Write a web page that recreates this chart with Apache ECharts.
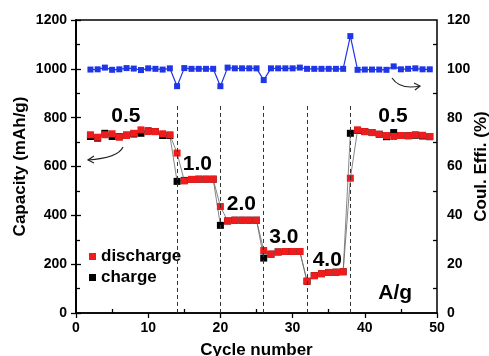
<!DOCTYPE html>
<html><head><meta charset="utf-8">
<script src="https://cdn.jsdelivr.net/npm/echarts@6/dist/echarts.min.js"></script>
<style>html,body{margin:0;padding:0;background:#fff}#c{width:489px;height:356px}</style>
</head><body><div id="c"></div>
<script>
var cycles = [2,3,4,5,6,7,8,9,10,11,12,13,14,15,16,17,18,19,20,21,22,23,24,25,26,27,28,29,30,31,32,33,34,35,36,37,38,39,40,41,42,43,44,45,46,47,48,49];
var discharge = [730,720,730,734,720,727,736,750,743,743,734,730,655,541,547,548,548,548,436,377,380,380,380,380,256,241,250,252,252,252,130,153,161,166,167,169,552,750,743,739,732,727,723,727,726,730,728,723];
var charge = [723,716,736,723,722,729,733,736,746,743,727,727,539,543,547,548,548,548,359,377,380,380,380,380,225,241,250,252,252,252,130,153,161,166,167,169,736,748,743,739,732,722,739,727,726,728,725,722];
var coulEff = [99.7,99.8,100.5,99.6,99.8,100.3,100.1,99.5,100.2,100.0,99.7,100.2,92.9,100.3,100.0,100.0,100.0,100.0,92.9,100.5,100.2,100.2,100.2,100.2,95.4,100.2,100.2,100.2,100.2,100.5,100.0,100.0,100.0,100.0,100.0,100.0,113.4,99.6,99.7,99.7,99.7,99.6,101.0,99.8,100.0,100.2,99.8,99.8];
var rateSwitchCycles = [14,20,26,32,38];
var annotations = [[6.9,807,'0.5'],[16.8,610,'1.0'],[22.9,446,'2.0'],[28.8,311,'3.0'],[34.8,217,'4.0'],[43.9,807,'0.5'],[44.2,82,'A/g']];

function pairs(ys){return cycles.map(function(c,i){return [c,ys[i]];});}
var chart = echarts.init(document.getElementById('c'), null, {renderer:'canvas'});
var fontFam = 'Liberation Sans, Arial, sans-serif';
function plain(v){return String(v);}
var lblStyle = {color:'#000', fontWeight:'bold', fontSize:14, fontFamily:fontFam, formatter:plain};
var nameStyle = {color:'#000', fontWeight:'bold', fontSize:17, fontFamily:fontFam};
var lineAx = {show:true, lineStyle:{color:'#000', width:1.5}};
var tickOut = {show:true, length:5, lineStyle:{color:'#000', width:1.3}};
var hideAx = {axisLine:{show:false}, axisLabel:{show:false}, splitLine:{show:false},
  axisTick:{show:false, inside:true}, minorTick:{show:true, splitNumber:2, length:4, lineStyle:{color:'#000', width:1.3}}};

var option = {
  animation:false,
  backgroundColor:'#fff',
  grid:{left:76, right:52, top:20, bottom:43, containLabel:false, outerBoundsMode:'none',
    show:true, borderColor:'#000', borderWidth:1.5, backgroundColor:'transparent'},
  legend:{data:['discharge','charge'], orient:'vertical', left:84, top:243, itemWidth:7, itemHeight:7, itemGap:4, icon:'rect',
    textStyle:{color:'#000', fontWeight:'bold', fontSize:17, fontFamily:fontFam}},
  xAxis:[
    {type:'value', min:0, max:50, interval:10, name:'Cycle number', nameLocation:'middle', nameGap:29, nameMoveOverlap:false,
     nameTextStyle:nameStyle, axisLine:lineAx, axisTick:tickOut, axisLabel:Object.assign({margin:8}, lblStyle), splitLine:{show:false}},
    Object.assign({type:'value', min:0, max:50, interval:10, position:'bottom'}, hideAx)
  ],
  yAxis:[
    {type:'value', min:0, max:1200, interval:200, name:'Capacity (mAh/g)', nameLocation:'middle', nameGap:47, nameRotate:90, nameMoveOverlap:false,
     nameTextStyle:nameStyle, axisLine:lineAx, axisTick:tickOut, axisLabel:Object.assign({margin:9}, lblStyle), splitLine:{show:false}},
    {type:'value', min:0, max:120, interval:20, position:'right', name:'Coul. Effi. (%)', nameLocation:'middle', nameGap:36, nameRotate:90, nameMoveOverlap:false,
     nameTextStyle:nameStyle, axisLine:lineAx, axisTick:tickOut, axisLabel:Object.assign({margin:10}, lblStyle), splitLine:{show:false}},
    Object.assign({type:'value', min:0, max:1200, interval:200, position:'left'}, hideAx),
    Object.assign({type:'value', min:0, max:120, interval:20, position:'right'}, hideAx)
  ],
  series:[
    {name:'charge', type:'line', data:pairs(charge), symbol:'rect', symbolSize:7, z:3,
     itemStyle:{color:'#000'}, lineStyle:{color:'#666', width:0.8},
     markLine:{silent:true, symbol:'none', label:{show:false},
       lineStyle:{color:'#333', type:[4,3], width:1},
       data:rateSwitchCycles.map(function(c){return [{coord:[c,848]},{coord:[c,0]}];})}},
    {name:'discharge', type:'line', data:pairs(discharge), symbol:'rect', symbolSize:7, z:4,
     itemStyle:{color:'#ee1c1c'}, lineStyle:{color:'#666', width:0.8}},
    {name:'CE', type:'line', yAxisIndex:1, data:pairs(coulEff), symbol:'rect', symbolSize:6, z:4,
     itemStyle:{color:'#1f35e8'}, lineStyle:{color:'#1f35e8', width:1.2}},
    {name:'labels', type:'scatter', data:annotations.map(function(a){return {value:[a[0],a[1]], name:a[2]};}),
     symbolSize:1, itemStyle:{color:'rgba(0,0,0,0)', opacity:1}, z:6,
     label:{show:true, position:'inside', formatter:function(p){return p.name;}, color:'#000', opacity:1, textBorderWidth:0,
       fontWeight:'bold', fontSize:21, fontFamily:fontFam}}
  ],
  graphic:[
    {type:'bezierCurve', shape:{x1:123, y1:147, cpx1:118, cpy1:158, x2:88, y2:160}, style:{stroke:'#222', lineWidth:1.2, fill:null}},
    {type:'polyline', shape:{points:[[94,156],[88,160],[94,163]]}, style:{stroke:'#222', lineWidth:1.2, fill:null}},
    {type:'bezierCurve', shape:{x1:392, y1:78, cpx1:400, cpy1:90, x2:420, y2:86}, style:{stroke:'#222', lineWidth:1.2, fill:null}},
    {type:'polyline', shape:{points:[[414,83],[420,86],[415,90]]}, style:{stroke:'#222', lineWidth:1.2, fill:null}}
  ]
};
chart.setOption(option);
</script></body></html>
